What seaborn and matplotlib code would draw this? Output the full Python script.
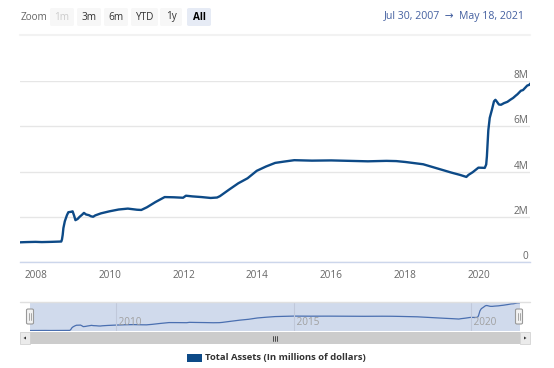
import numpy as np
import pandas as pd
import matplotlib
matplotlib.use("Agg")
import matplotlib.pyplot as plt
import matplotlib.dates as mdates
from matplotlib.patches import Rectangle, FancyBboxPatch, Polygon
from matplotlib.lines import Line2D
from matplotlib.ticker import FuncFormatter
import seaborn as sns

# Fed total assets, millions of dollars
dates = [
    "2007-07-30", "2007-10-01", "2007-12-31", "2008-03-01", "2008-06-01", "2008-09-10",
    "2008-09-17", "2008-09-24", "2008-10-01", "2008-10-15", "2008-11-05", "2008-11-19",
    "2008-12-17", "2008-12-31", "2009-01-14", "2009-01-28", "2009-02-18", "2009-03-11",
    "2009-04-01", "2009-04-22", "2009-05-13", "2009-06-10", "2009-07-01", "2009-07-22",
    "2009-08-12", "2009-10-07", "2009-12-30", "2010-03-31", "2010-06-30", "2010-09-29",
    "2010-11-10", "2011-01-05", "2011-03-30", "2011-06-29", "2011-09-28", "2011-12-28",
    "2012-01-25", "2012-03-28", "2012-06-27", "2012-09-26", "2012-11-28", "2012-12-26",
    "2013-03-27", "2013-06-26", "2013-09-25", "2013-12-25", "2014-03-26", "2014-06-25",
    "2014-09-24", "2014-12-31", "2015-06-24", "2015-12-30", "2016-06-29", "2016-12-28",
    "2017-06-28", "2017-10-04", "2018-01-03", "2018-06-27", "2018-12-26", "2019-04-03",
    "2019-06-26", "2019-08-28", "2019-09-18", "2019-10-30", "2019-12-25", "2020-02-26",
    "2020-03-11", "2020-03-18", "2020-03-25", "2020-04-01", "2020-04-15", "2020-05-06",
    "2020-05-27", "2020-06-10", "2020-06-24", "2020-07-15", "2020-08-05", "2020-09-02",
    "2020-10-07", "2020-11-04", "2020-12-02", "2020-12-30", "2021-01-13", "2021-02-17",
    "2021-03-10", "2021-03-31", "2021-04-21", "2021-05-12", "2021-05-18",
]
total_assets = [
    870000, 880000, 890000, 880000, 890000, 905000,
    1000000, 1200000, 1500000, 1800000, 2070000, 2200000,
    2220000, 2240000, 2060000, 1850000, 1900000, 2000000,
    2080000, 2170000, 2100000, 2070000, 2020000, 2000000,
    2060000, 2150000, 2240000, 2320000, 2360000, 2310000,
    2300000, 2420000, 2650000, 2870000, 2860000, 2840000,
    2930000, 2900000, 2870000, 2830000, 2850000, 2910000,
    3200000, 3480000, 3700000, 4030000, 4220000, 4380000,
    4440000, 4500000, 4480000, 4490000, 4470000, 4450000,
    4470000, 4460000, 4420000, 4320000, 4080000, 3950000,
    3850000, 3760000, 3850000, 3970000, 4170000, 4160000,
    4310000, 4670000, 5250000, 5820000, 6370000, 6720000,
    7100000, 7170000, 7090000, 6960000, 6950000, 7020000,
    7080000, 7170000, 7250000, 7360000, 7410000, 7570000,
    7600000, 7700000, 7800000, 7830000, 7880000,
]
y_ticks = [0, 2000000, 4000000, 6000000, 8000000]
main_years = [2008, 2010, 2012, 2014, 2016, 2018, 2020]
nav_years = [2010, 2015, 2020]
zoom_buttons = ["1m", "3m", "6m", "YTD", "1y", "All"]
series_name = "Total Assets (In millions of dollars)"

df = pd.DataFrame({"date": pd.to_datetime(dates), "value": total_assets})
x0, x1 = pd.Timestamp("2007-07-30"), pd.Timestamp("2021-05-18")

LINE = "#0d4a87"
GRID = "#e6e6e6"
AXIS = "#ccd6eb"

sns.set_style("white")
plt.rcParams["font.family"] = ["Open Sans", "DejaVu Sans"]

W, H = 554, 368
fig = plt.figure(figsize=(W / 100, H / 100), dpi=100)


def box(l, t, r, b):
    return [l / W, 1 - b / H, (r - l) / W, (b - t) / H]


# main chart
ax = fig.add_axes(box(20, 81, 530, 262))
sns.lineplot(data=df, x="date", y="value", ax=ax, color=LINE, linewidth=1.7)
ax.set_xlim(x0, x1)
ax.set_ylim(0, 8000000)
ax.set_xlabel("")
ax.set_ylabel("")
for s in ["top", "left", "right"]:
    ax.spines[s].set_visible(False)
ax.spines["bottom"].set_color(AXIS)
ax.spines["bottom"].set_linewidth(1)
ax.set_yticks(y_ticks)
ax.yaxis.set_major_formatter(FuncFormatter(lambda v, p: "0" if v == 0 else f"{v / 1e6:.0f}M"))
ax.grid(axis="y", color=GRID, linewidth=1)
ax.tick_params(axis="y", length=0, labelleft=False, labelright=True, pad=-1,
               labelsize=7.2, labelcolor="#666666")
for lbl in ax.get_yticklabels():
    lbl.set_ha("right")
    lbl.set_va("bottom")
ax.set_xticks([pd.Timestamp(f"{y}-01-01") for y in main_years])
ax.xaxis.set_major_formatter(mdates.DateFormatter("%Y"))
ax.tick_params(axis="x", length=5, color=AXIS, labelsize=7.2, labelcolor="#666666", pad=1)

# navigator
nav = fig.add_axes(box(30, 302, 520, 331))
nav.add_patch(Rectangle((0, 0), 1, 1, transform=nav.transAxes, color="#6685c2", alpha=0.3, lw=0))
sns.lineplot(data=df, x="date", y="value", ax=nav, color="#4a6fb0", linewidth=0.9)
nav.set_xlim(x0, x1)
nav.set_ylim(750000, 8050000)
nav.set_xlabel("")
nav.set_ylabel("")
nav.set_yticks([])
nav.set_xticks([])
for s in nav.spines.values():
    s.set_visible(False)
for y in nav_years:
    d = pd.Timestamp(f"{y}-01-01")
    nav.axvline(d, color="#c0c8da", linewidth=0.8)
    nav.text(d, 0.1, f" {y}", transform=nav.get_xaxis_transform(), fontsize=7.2,
             color="#a0a0a0", ha="left", va="bottom")

# navigator outline + handles
fig.add_artist(Line2D([20 / W, 530 / W], [1 - 301.5 / H] * 2, color="#e0e0e0", lw=1))
for hx in [30, 519]:
    fig.add_artist(FancyBboxPatch(((hx - 3.5) / W, 1 - 324 / H), 7 / W, 15 / H,
                                  boxstyle="round,pad=0,rounding_size=0.003",
                                  fc="#f2f2f2", ec="#999999", lw=0.8))
    for dx in [-1, 1]:
        fig.add_artist(Line2D([(hx + dx) / W] * 2, [1 - 313 / H, 1 - 320 / H], color="#999999", lw=0.6))

# scrollbar
fig.add_artist(Rectangle((20 / W, 1 - 344 / H), 510 / W, 12 / H, fc="#f2f2f2", ec="none"))
fig.add_artist(Rectangle((30 / W, 1 - 344 / H), 490 / W, 12 / H, fc="#cccccc", ec="none"))
fig.add_artist(Rectangle((20 / W, 1 - 344 / H), 10 / W, 12 / H, fc="#ebebeb", ec="#cccccc", lw=0.5))
fig.add_artist(Rectangle((520 / W, 1 - 344 / H), 10 / W, 12 / H, fc="#ebebeb", ec="#cccccc", lw=0.5))
fig.add_artist(Polygon([[23.5 / W, 1 - 338 / H], [26 / W, 1 - 336.5 / H], [26 / W, 1 - 339.5 / H]],
                       fc="#333333", ec="none"))
fig.add_artist(Polygon([[526.5 / W, 1 - 338 / H], [524 / W, 1 - 336.5 / H], [524 / W, 1 - 339.5 / H]],
                       fc="#333333", ec="none"))
for dx in [-2, 0, 2]:
    fig.add_artist(Line2D([(275 + dx) / W] * 2, [1 - 335.5 / H, 1 - 340.5 / H], color="#333333", lw=0.6))

# legend
fig.add_artist(Rectangle((187 / W, 1 - 362 / H), 15 / W, 8 / H, fc=LINE, ec="none"))
fig.text(205 / W, 1 - 358 / H, series_name, fontsize=6.8, fontweight="bold", color="#333333",
         va="center", ha="left")

# range selector
fig.text(21 / W, 1 - 17 / H, "Zoom", fontsize=7.2, color="#666666", va="center")
btn_x = [50, 77, 104, 131, 160, 187]
btn_w = [24, 24, 24, 27, 22, 24]
for name, bx, bw in zip(zoom_buttons, btn_x, btn_w):
    sel = name == "All"
    fig.add_artist(FancyBboxPatch((bx / W, 1 - 26 / H), bw / W, 18 / H,
                                  boxstyle="round,pad=0,rounding_size=0.004",
                                  fc="#e6ebf5" if sel else "#f7f7f7", ec="none"))
    fig.text((bx + bw / 2) / W, 1 - 17 / H, name, fontsize=7.2, ha="center", va="center",
             color="#000000" if sel else ("#cccccc" if name == "1m" else "#333333"),
             fontweight="bold" if sel else "normal")
fig.add_artist(Line2D([20 / W, 530 / W], [1 - 34.5 / H] * 2, color="#f2f2f2", lw=1.5))
fig.text(525 / W, 1 - 17 / H, "Jul 30, 2007  \u2192  May 18, 2021", fontsize=7.6,
         color="#4460a0", ha="right", va="center")

fig.savefig("out.png", dpi=100)
